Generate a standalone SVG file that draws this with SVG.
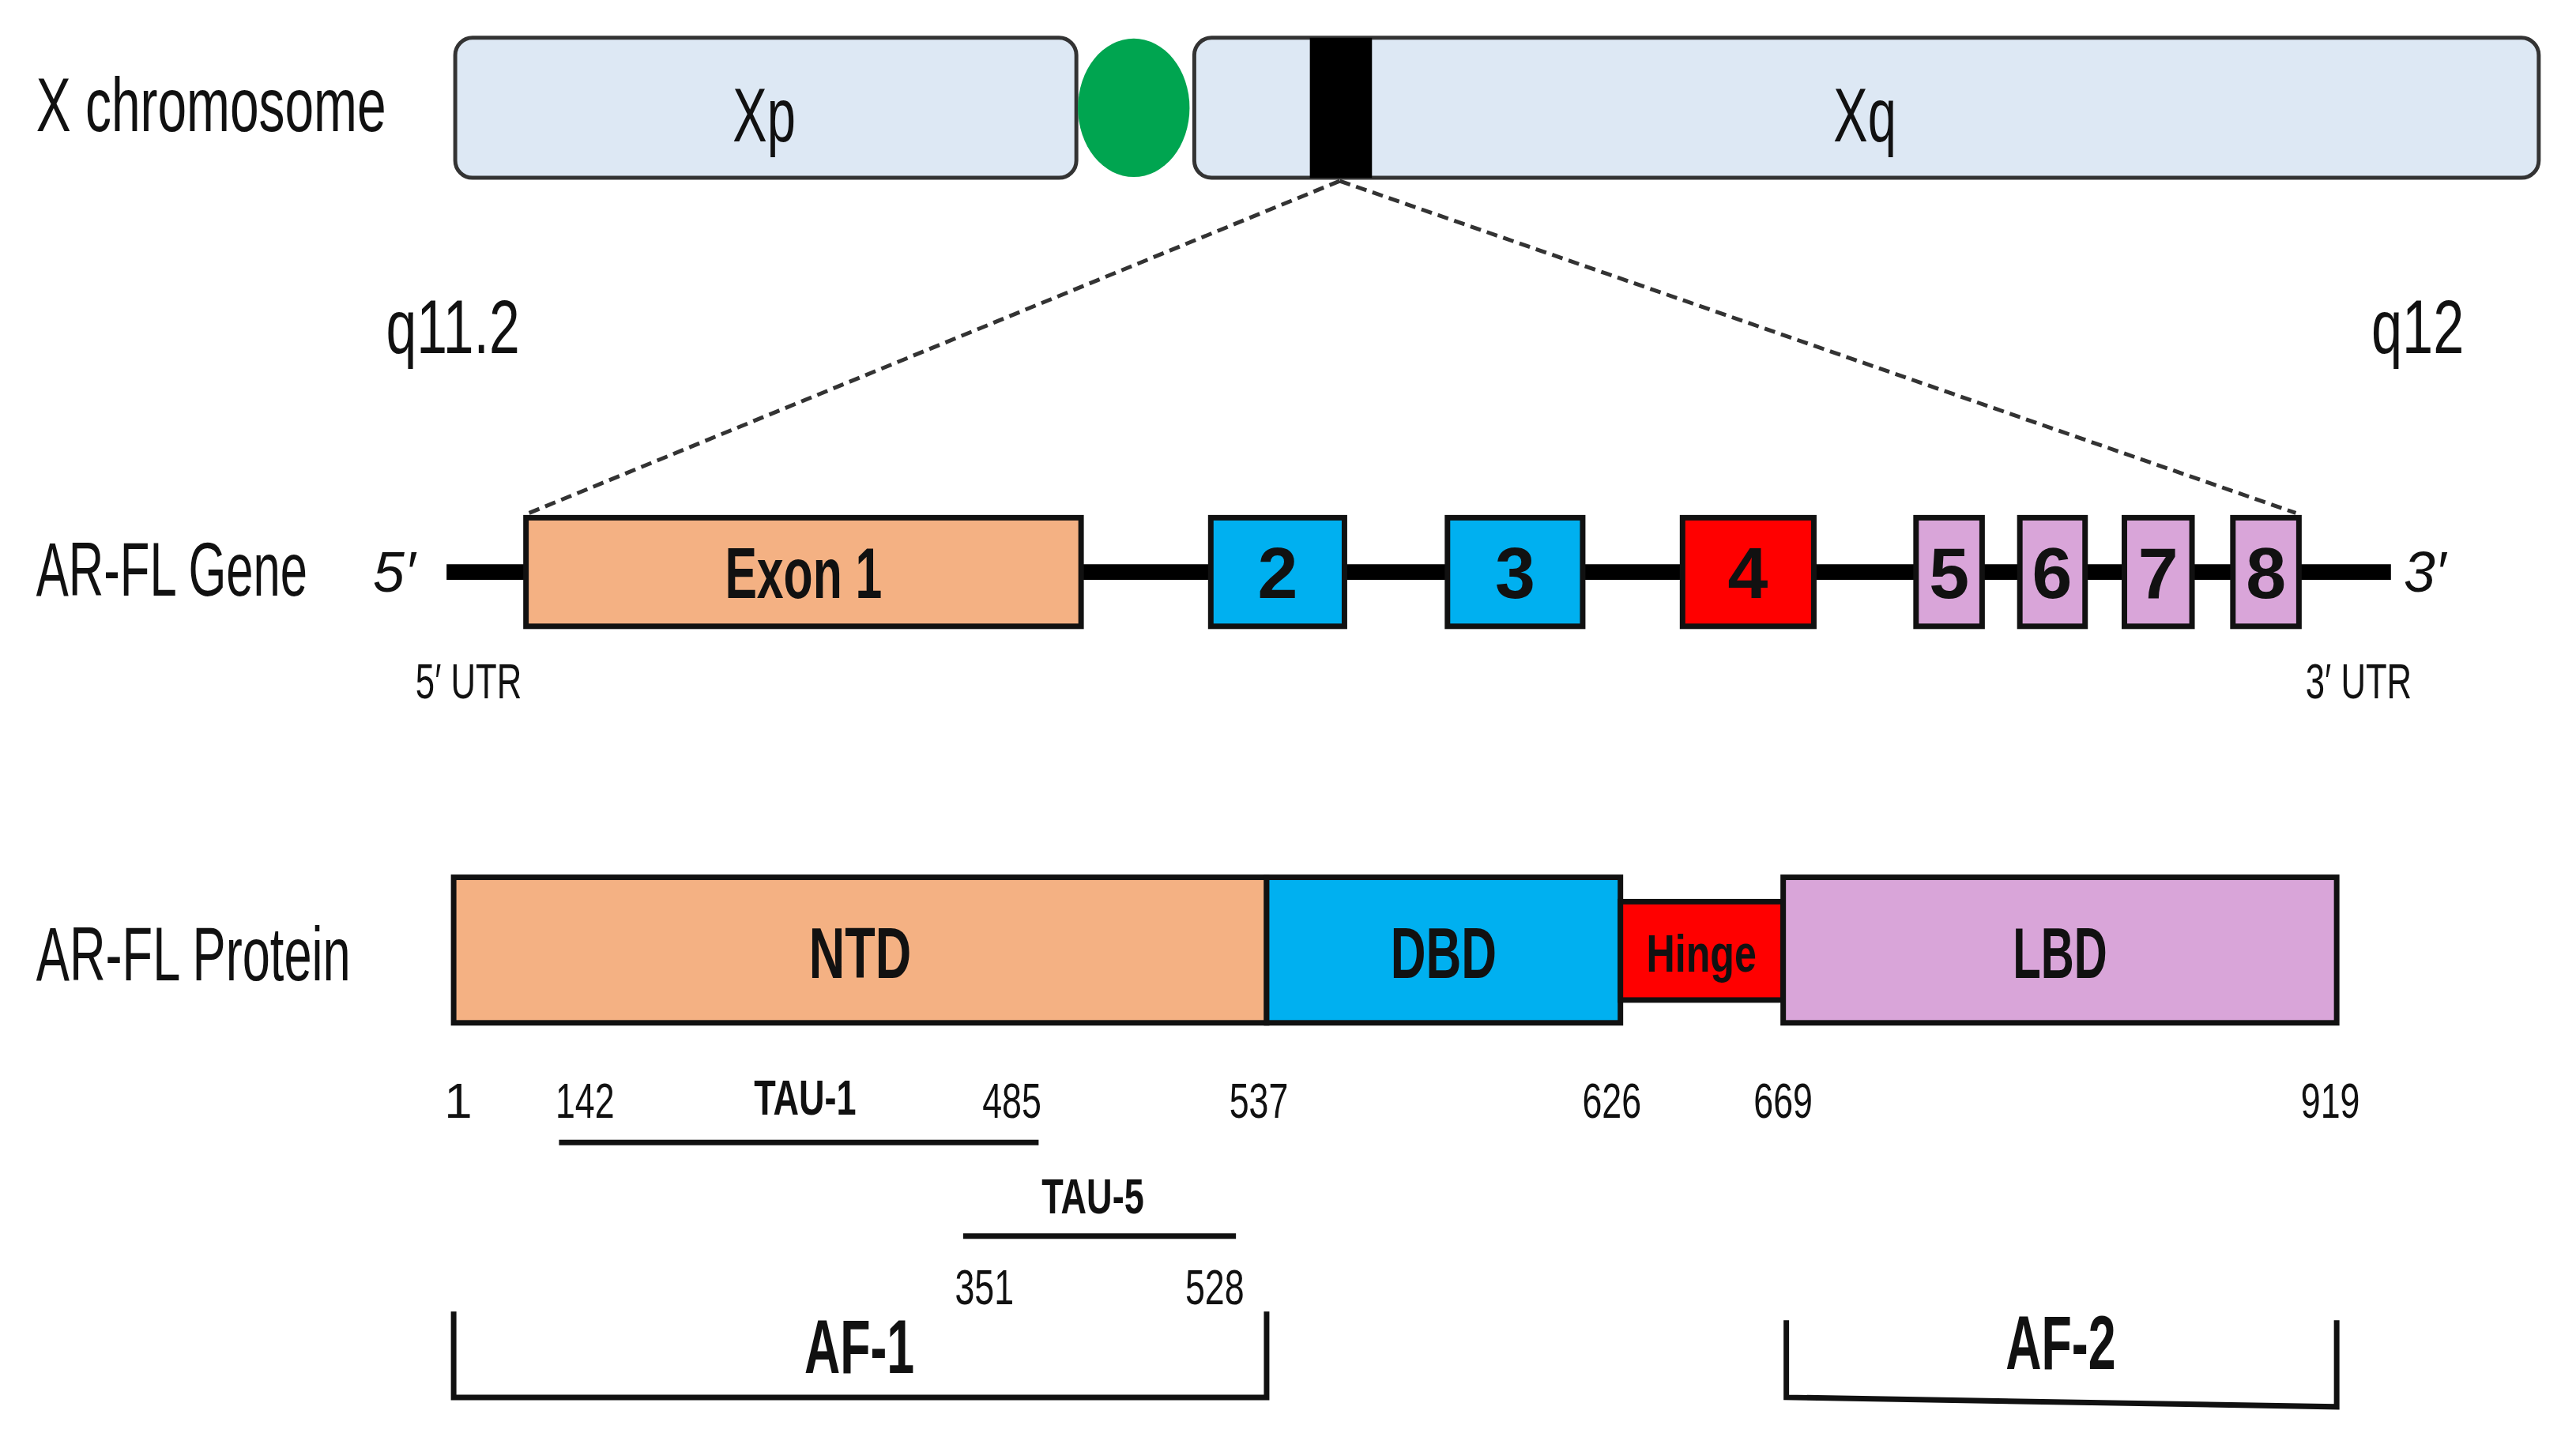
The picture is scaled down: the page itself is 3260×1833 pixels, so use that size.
<svg xmlns="http://www.w3.org/2000/svg" width="3260" height="1833" viewBox="0 0 3260 1833">
<style>
text{font-family:"Liberation Sans",Arial,sans-serif;fill:#111}
.lbl{font-size:96px}
.big{font-size:96px;text-anchor:middle}
.b{font-weight:bold;text-anchor:middle}
.num{font-size:64px;text-anchor:middle}
.box{stroke:#111;stroke-width:7}
.chr{fill:#dde8f4;stroke:#333;stroke-width:5}
</style>
<rect width="3260" height="1833" fill="#fff"/>
<g transform="scale(0.995 0.996)">
<g id="labels">
<text class="lbl" x="46" y="167" textLength="445" lengthAdjust="spacingAndGlyphs">X chromosome</text>
<text class="lbl" x="46" y="757" textLength="345" lengthAdjust="spacingAndGlyphs">AR-FL Gene</text>
<text class="lbl" x="46" y="1246" textLength="400" lengthAdjust="spacingAndGlyphs">AR-FL Protein</text>
<text class="lbl" x="491" y="449" textLength="170" lengthAdjust="spacingAndGlyphs">q11.2</text>
<text class="lbl" x="3016" y="449" textLength="118" lengthAdjust="spacingAndGlyphs">q12</text>
</g>
<g id="chromosome">
<rect class="chr" x="579" y="48" width="790" height="178" rx="22"/>
<rect class="chr" x="1519" y="48" width="1710" height="178" rx="22"/>
<rect x="1666" y="48" width="79" height="178" fill="#000"/>
<ellipse cx="1442" cy="137" rx="71" ry="88" fill="#00a550"/>
<text class="big" x="972" y="180" textLength="80" lengthAdjust="spacingAndGlyphs">Xp</text>
<text class="big" x="2372" y="180" textLength="80" lengthAdjust="spacingAndGlyphs">Xq</text>
</g>
<g id="connectors" fill="none" stroke="#333" stroke-width="5" stroke-dasharray="14 8">
<path d="M1704 230L673 652M1704 230L2920 652"/>
</g>
<g id="gene">
<line x1="568" y1="727" x2="3041" y2="727" stroke="#000" stroke-width="20"/>
<rect class="box" x="669" y="658" width="706" height="138" fill="#f4b183"/>
<rect class="box" x="1540" y="658" width="170" height="138" fill="#00b0f0"/>
<rect class="box" x="1841" y="658" width="172" height="138" fill="#00b0f0"/>
<rect class="box" x="2140" y="658" width="167" height="138" fill="#ff0000"/>
<rect class="box" x="2437" y="658" width="84" height="138" fill="#d9a5d9"/>
<rect class="box" x="2569" y="658" width="83" height="138" fill="#d9a5d9"/>
<rect class="box" x="2702" y="658" width="86" height="138" fill="#d9a5d9"/>
<rect class="box" x="2840" y="658" width="84" height="138" fill="#d9a5d9"/>
<g class="b" font-size="92">
<text x="1022" y="760" textLength="200" lengthAdjust="spacingAndGlyphs">Exon 1</text>
<text x="1625" y="760">2</text><text x="1927" y="760">3</text><text x="2223" y="760">4</text>
<text x="2479" y="760">5</text><text x="2610" y="760">6</text><text x="2745" y="760">7</text><text x="2882" y="760">8</text>
</g>
<text x="528" y="752" font-size="72" font-style="italic" text-anchor="end">5′</text>
<text x="3084" y="752" font-size="72" font-style="italic" text-anchor="middle">3′</text>
<text class="num" x="596" y="888" textLength="135" lengthAdjust="spacingAndGlyphs">5′ UTR</text>
<text class="num" x="3000" y="888" textLength="135" lengthAdjust="spacingAndGlyphs">3′ UTR</text>
</g>
<g id="protein">
<rect class="box" x="577" y="1115" width="1034" height="185" fill="#f4b183"/>
<rect class="box" x="1611" y="1115" width="450" height="185" fill="#00b0f0"/>
<rect class="box" x="2061" y="1146" width="207" height="125" fill="#ff0000"/>
<rect class="box" x="2268" y="1115" width="704" height="185" fill="#d9a5d9"/>
<text class="b" x="1094" y="1243" font-size="92" textLength="130" lengthAdjust="spacingAndGlyphs">NTD</text>
<text class="b" x="1836" y="1243" font-size="92" textLength="135" lengthAdjust="spacingAndGlyphs">DBD</text>
<text class="b" x="2164" y="1235" font-size="66" textLength="140" lengthAdjust="spacingAndGlyphs">Hinge</text>
<text class="b" x="2620" y="1243" font-size="92" textLength="120" lengthAdjust="spacingAndGlyphs">LBD</text>
</g>
<g id="annotations">
<text class="num" x="583" y="1421">1</text>
<text class="num" x="744" y="1421" textLength="75" lengthAdjust="spacingAndGlyphs">142</text>
<text class="b" x="1024" y="1417" font-size="64" textLength="130" lengthAdjust="spacingAndGlyphs">TAU-1</text>
<text class="num" x="1287" y="1421" textLength="75" lengthAdjust="spacingAndGlyphs">485</text>
<text class="num" x="1601" y="1421" textLength="75" lengthAdjust="spacingAndGlyphs">537</text>
<text class="num" x="2050" y="1421" textLength="75" lengthAdjust="spacingAndGlyphs">626</text>
<text class="num" x="2268" y="1421" textLength="75" lengthAdjust="spacingAndGlyphs">669</text>
<text class="num" x="2964" y="1421" textLength="75" lengthAdjust="spacingAndGlyphs">919</text>
<line x1="711" y1="1452" x2="1321" y2="1452" stroke="#111" stroke-width="7"/>
<text class="b" x="1390" y="1542" font-size="64" textLength="130" lengthAdjust="spacingAndGlyphs">TAU-5</text>
<line x1="1225" y1="1571" x2="1572" y2="1571" stroke="#111" stroke-width="7"/>
<text class="num" x="1252" y="1658" textLength="75" lengthAdjust="spacingAndGlyphs">351</text>
<text class="num" x="1545" y="1658" textLength="75" lengthAdjust="spacingAndGlyphs">528</text>
<path d="M577 1667V1776H1611V1667M2272 1678V1776L2972 1788V1678" fill="none" stroke="#111" stroke-width="7"/>
<text class="b" x="1093" y="1745" font-size="96" textLength="140" lengthAdjust="spacingAndGlyphs">AF-1</text>
<text class="b" x="2621" y="1740" font-size="96" textLength="140" lengthAdjust="spacingAndGlyphs">AF-2</text>
</g>
</g>
</svg>
